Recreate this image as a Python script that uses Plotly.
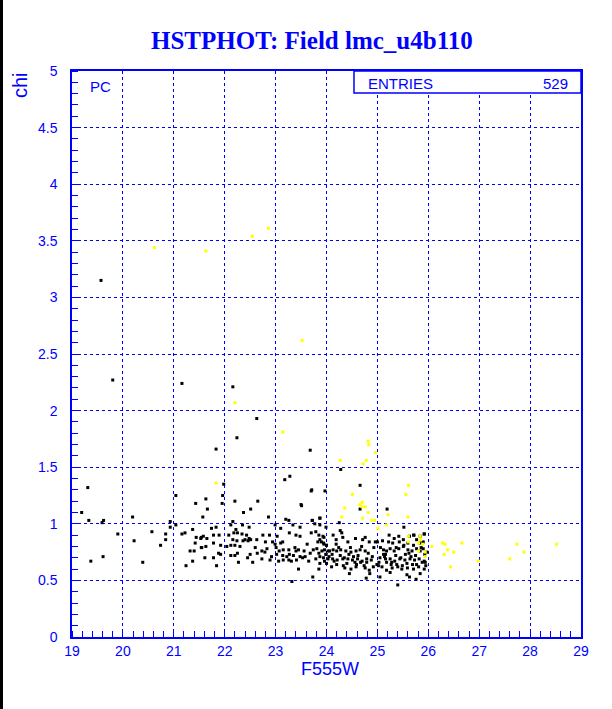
import plotly.graph_objects as go

# ---------------- data ----------------
black_x = [
    19.57, 19.80, 21.16, 22.16, 22.63, 22.24, 21.83, 21.98, 19.31, 23.68, 24.28, 23.28, 23.18, 24.66,
    23.70, 23.97, 24.66, 25.19, 23.51, 23.72, 23.87, 23.77, 25.52, 25.72, 25.92,
    21.04, 21.43, 19.19, 20.19, 19.33, 19.62, 19.59, 20.93, 20.93, 21.04, 19.90, 20.57, 20.84, 21.16,
    21.22, 21.37, 21.44, 20.22, 20.84, 21.42, 20.74, 21.32, 21.40, 19.61, 19.37, 21.37, 20.39, 21.24,
    21.54, 21.54,
    21.96, 21.95, 22.20, 21.63, 21.66, 22.65, 23.71, 22.37, 22.51, 21.57, 22.86, 22.16, 23.20, 23.26,
    23.50, 23.72, 23.87, 22.12, 22.35, 22.48, 21.83, 21.74, 22.99, 23.34, 23.48, 23.87, 23.99, 22.22,
    22.25, 21.58, 21.53, 21.78, 21.89, 22.08, 22.18, 22.34, 22.43, 22.48, 22.40, 22.36, 22.46, 22.51,
    22.75, 22.88, 23.03, 22.63, 22.80, 22.94, 22.99, 23.14, 23.27, 23.40, 23.48, 23.70, 23.79, 23.85,
    23.95, 23.83, 23.94, 24.00, 21.55, 21.63, 21.78, 21.92, 22.04, 22.12, 22.20, 22.30, 23.01, 23.07,
    23.15, 23.26, 23.40, 23.45, 23.56, 23.68, 23.74, 23.85, 23.91, 23.99, 24.03, 21.88, 21.92, 22.20,
    22.25, 22.12, 21.61, 21.78, 22.73, 22.79, 22.50, 22.64, 23.02, 23.14, 23.27, 23.35, 23.48, 23.58,
    23.65, 23.79, 23.87, 22.73, 22.89, 23.06, 23.15, 23.26, 23.31, 23.41, 22.27, 22.55, 21.84, 23.45,
    23.85, 23.73, 23.32, 23.87, 23.96, 22.16, 22.24, 23.10, 21.65,
    24.25, 24.27, 24.13, 24.30, 24.32, 23.90, 23.95, 24.00, 24.19, 24.42, 24.57, 24.71, 24.76, 24.84,
    24.96, 23.96, 24.06, 24.13, 24.20, 24.28, 24.38, 24.48, 24.58, 24.66, 24.76, 25.06, 25.12, 25.18,
    25.25, 25.33, 25.42, 25.51, 25.60, 25.68, 25.77, 25.84, 25.90, 25.97, 25.00, 25.10, 25.22, 25.30,
    25.43, 25.52, 25.60, 25.71, 25.84, 25.92, 25.84, 25.90, 23.94, 24.03, 24.12, 24.21, 24.32, 24.42,
    24.51, 24.61, 24.70, 24.79, 24.88, 25.05, 25.16, 25.25, 25.34, 25.44, 25.54, 25.64, 25.73, 25.82,
    25.92, 24.36, 24.48, 24.58, 24.76, 24.84, 24.92, 25.09, 25.18, 25.29, 25.40, 25.48, 25.59, 25.71,
    25.81, 25.92, 24.78, 25.05, 25.40, 25.76, 25.63, 23.93, 23.87, 24.19, 25.23, 25.33, 25.51, 25.42,
    25.63, 25.71, 25.77, 23.99, 24.11, 24.27, 24.44, 24.62, 24.82, 25.16, 25.36, 25.55, 25.75, 25.93,
    24.00, 24.20, 24.40, 24.59, 24.79, 24.99, 25.18, 25.38, 25.58, 25.77, 25.94, 24.45, 24.85, 25.25,
    25.58, 25.84,
    24.05, 24.15, 24.35, 24.53, 24.67, 24.90, 25.03, 25.14, 25.28, 25.46, 25.66, 25.88, 24.24, 24.47,
    24.69, 24.93, 25.12, 25.37, 25.62, 25.86, 24.10, 24.33, 24.56, 24.74, 25.02, 25.27, 25.49, 25.69,
    25.95, 22.60, 22.83, 23.10, 23.38, 23.62, 23.81, 22.45, 22.92, 23.22, 23.53,
]
black_y = [
    3.15, 2.27, 2.24, 2.21, 1.93, 1.76, 1.66, 1.35, 1.32, 1.65, 1.48, 1.42, 1.39, 1.34,
    1.29, 1.29, 1.13, 1.13, 1.16, 1.03, 1.05, 1.00, 0.97, 0.90, 0.91,
    1.25, 1.18, 1.10, 1.06, 1.03, 1.03, 1.01, 1.02, 0.97, 0.99, 0.91, 0.93, 0.91, 0.91,
    0.92, 0.95, 0.88, 0.85, 0.86, 0.83, 0.81, 0.76, 0.76, 0.71, 0.67, 0.67, 0.66, 0.63,
    0.79, 0.88,
    1.25, 1.18, 1.20, 1.22, 1.13, 1.20, 1.30, 1.10, 1.13, 1.06, 1.06, 1.02, 1.04, 1.03,
    1.17, 1.03, 1.05, 0.99, 0.99, 0.97, 0.97, 0.96, 0.99, 0.99, 0.97, 0.99, 0.97, 0.95,
    0.92, 0.89, 0.87, 0.90, 0.90, 0.90, 0.92, 0.91, 0.90, 0.87, 0.86, 0.85, 0.85, 0.86,
    0.90, 0.90, 0.89, 0.86, 0.84, 0.84, 0.82, 0.84, 0.92, 0.90, 0.89, 0.92, 0.93, 0.90,
    0.88, 0.84, 0.83, 0.81, 0.79, 0.80, 0.83, 0.81, 0.80, 0.81, 0.81, 0.80, 0.79, 0.76,
    0.77, 0.77, 0.76, 0.77, 0.76, 0.74, 0.77, 0.74, 0.76, 0.73, 0.76, 0.74, 0.73, 0.72,
    0.74, 0.72, 0.70, 0.70, 0.76, 0.75, 0.73, 0.74, 0.73, 0.72, 0.73, 0.72, 0.71, 0.71,
    0.67, 0.69, 0.71, 0.69, 0.68, 0.67, 0.68, 0.68, 0.67, 0.68, 0.66, 0.66, 0.63, 0.60,
    0.60, 0.53, 0.49, 0.65, 0.67, 0.86, 0.85, 0.96, 0.87,
    1.01, 0.94, 0.90, 0.92, 0.88, 0.84, 0.82, 0.81, 0.82, 0.84, 0.87, 0.86, 0.88, 0.84,
    0.84, 0.77, 0.76, 0.77, 0.76, 0.77, 0.76, 0.75, 0.76, 0.77, 0.76, 0.79, 0.77, 0.76,
    0.78, 0.76, 0.78, 0.80, 0.77, 0.76, 0.78, 0.76, 0.78, 0.75, 0.84, 0.85, 0.84, 0.83,
    0.84, 0.81, 0.83, 0.81, 0.83, 0.91, 0.89, 0.84, 0.70, 0.69, 0.69, 0.68, 0.69, 0.69,
    0.68, 0.69, 0.67, 0.69, 0.68, 0.70, 0.69, 0.69, 0.67, 0.69, 0.68, 0.69, 0.68, 0.69,
    0.67, 0.61, 0.60, 0.62, 0.61, 0.59, 0.62, 0.62, 0.59, 0.61, 0.62, 0.60, 0.61, 0.60,
    0.62, 0.60, 0.52, 0.53, 0.46, 0.51, 0.53, 0.89, 0.86, 0.86, 0.90, 0.87, 0.86, 0.89,
    0.89, 0.90, 0.86, 0.73, 0.73, 0.72, 0.73, 0.72, 0.74, 0.73, 0.72, 0.73, 0.72, 0.73,
    0.65, 0.64, 0.65, 0.64, 0.66, 0.64, 0.66, 0.64, 0.65, 0.64, 0.66, 0.56, 0.56, 0.57,
    0.55, 0.56,
    0.71, 0.67, 0.70, 0.71, 0.66, 0.71, 0.66, 0.71, 0.66, 0.70, 0.71, 0.66, 0.79, 0.79,
    0.80, 0.79, 0.73, 0.79, 0.74, 0.79, 0.62, 0.63, 0.66, 0.63, 0.63, 0.64, 0.63, 0.64,
    0.63, 0.79, 0.78, 0.83, 0.79, 0.82, 0.78, 0.70, 0.71, 0.71, 0.70,
]

yellow_x = [
    20.62, 21.63, 22.54, 22.86, 23.52, 22.20, 21.83, 23.14, 24.82, 24.83, 24.96, 24.27, 24.78, 24.72,
    25.61, 25.56, 24.51, 24.70, 24.66, 24.70, 24.76, 24.36, 24.82, 25.21, 24.30, 24.71, 25.60, 24.89,
    24.95, 25.01, 25.18, 25.61, 25.84, 25.85, 25.61, 25.81, 25.89, 26.07, 26.28, 26.33, 26.66, 26.38,
    26.50, 26.31, 25.94, 25.81, 25.94, 26.44, 26.98, 27.74, 27.88, 27.60, 28.52,
]
yellow_y = [
    3.44, 3.41, 3.54, 3.61, 2.62, 2.07, 1.36, 1.81, 1.73, 1.70, 1.63, 1.56, 1.56, 1.53,
    1.34, 1.26, 1.26, 1.19, 1.17, 1.15, 1.15, 1.14, 1.10, 1.08, 1.06, 1.05, 1.06, 1.03,
    1.03, 0.96, 0.99, 0.89, 0.89, 0.86, 0.84, 0.83, 0.82, 0.80, 0.83, 0.82, 0.83, 0.77,
    0.75, 0.73, 0.75, 0.76, 0.71, 0.62, 0.67, 0.82, 0.75, 0.69, 0.82,
]

title_text = "HSTPHOT: Field lmc_u4b110"
x_title = "F555W"
y_title = "chi"
entries_label = "ENTRIES"
entries_value = "529"
corner_label = "PC"

x_ticks = list(range(19, 30))
y_ticks = [0, 0.5, 1, 1.5, 2, 2.5, 3, 3.5, 4, 4.5, 5]
y_tick_text = ["0", "0.5", "1", "1.5", "2", "2.5", "3", "3.5", "4", "4.5", "5"]

# ---------------- figure ----------------
BLUE = "#0000FF"
W, H = 612, 709
L, R, T, B = 72, 31, 71, 72
pw, ph = W - L - R, H - T - B

def px_x(p):
    return (p - L) / pw

def px_y(p):
    return (H - B - p) / ph

fig = go.Figure()
fig.add_trace(go.Scatter(x=black_x, y=black_y, mode="markers",
                         marker=dict(symbol="square", size=3, color="black", line=dict(width=0)),
                         showlegend=False, hoverinfo="skip"))
fig.add_trace(go.Scatter(x=yellow_x, y=yellow_y, mode="markers",
                         marker=dict(symbol="square", size=3, color="#FFFF00", line=dict(width=0)),
                         showlegend=False, hoverinfo="skip"))

tickfont = dict(family="Liberation Sans, Arial, sans-serif", size=14, color=BLUE)

fig.update_xaxes(range=[19, 29], tickvals=x_ticks, ticktext=[str(v) for v in x_ticks],
                 showgrid=True, gridcolor=BLUE, griddash="dot", gridwidth=1,
                 showline=True, linecolor=BLUE, linewidth=1.5, mirror=True,
                 ticks="", tickfont=tickfont, zeroline=False, ticklabelstandoff=0,
                 minor=dict(dtick=0.2, ticks="inside", ticklen=6, tickcolor=BLUE, tickwidth=1, showgrid=False))
fig.update_yaxes(range=[0, 5], tickvals=y_ticks, ticktext=y_tick_text,
                 showgrid=True, gridcolor=BLUE, griddash="dot", gridwidth=1,
                 showline=True, linecolor=BLUE, linewidth=1.5, mirror=True,
                 ticks="", tickfont=tickfont, zeroline=False, ticklabelstandoff=10,
                 minor=dict(dtick=0.1, ticks="inside", ticklen=6, tickcolor=BLUE, tickwidth=1, showgrid=False))

annotations = [
    dict(text="<b>" + title_text + "</b>", x=px_x(312), y=px_y(40), xref="paper", yref="paper",
         showarrow=False, xanchor="center", yanchor="middle",
         font=dict(family="Liberation Serif, Times New Roman, serif", size=25, color=BLUE)),
    dict(text=x_title, x=px_x(330), y=px_y(669), xref="paper", yref="paper", showarrow=False,
         xanchor="center", yanchor="middle",
         font=dict(family="Liberation Sans, Arial, sans-serif", size=18, color=BLUE)),
    dict(text=y_title, x=px_x(20), y=px_y(70), xref="paper", yref="paper", showarrow=False,
         xanchor="center", yanchor="top", textangle=-90,
         font=dict(family="Liberation Sans, Arial, sans-serif", size=20, color=BLUE)),
    dict(text=corner_label, x=px_x(88), y=px_y(87), xref="paper", yref="paper", showarrow=False,
         xanchor="left", yanchor="middle",
         font=dict(family="Liberation Sans, Arial, sans-serif", size=15, color=BLUE)),
    dict(text=entries_label, x=px_x(366), y=px_y(83), xref="paper", yref="paper", showarrow=False,
         xanchor="left", yanchor="middle",
         font=dict(family="Liberation Sans, Arial, sans-serif", size=15, color=BLUE)),
    dict(text=entries_value, x=px_x(570), y=px_y(83), xref="paper", yref="paper", showarrow=False,
         xanchor="right", yanchor="middle",
         font=dict(family="Liberation Sans, Arial, sans-serif", size=15, color=BLUE)),
]

shapes = [
    dict(type="rect", xref="paper", yref="paper", x0=px_x(354), x1=1.0, y0=px_y(93), y1=1.0,
         line=dict(color=BLUE, width=1.5), fillcolor="white", layer="above"),
    dict(type="rect", xref="paper", yref="paper", x0=px_x(0), x1=px_x(3), y0=px_y(H), y1=px_y(0),
         line=dict(width=0), fillcolor="black"),
]

fig.update_layout(width=W, height=H, margin=dict(l=L, r=R, t=T, b=B),
                  paper_bgcolor="white", plot_bgcolor="white",
                  annotations=annotations, shapes=shapes)

fig.write_html("out.html", config={"displayModeBar": False},
               post_script="document.body.style.margin='0';document.body.style.overflow='hidden';")
